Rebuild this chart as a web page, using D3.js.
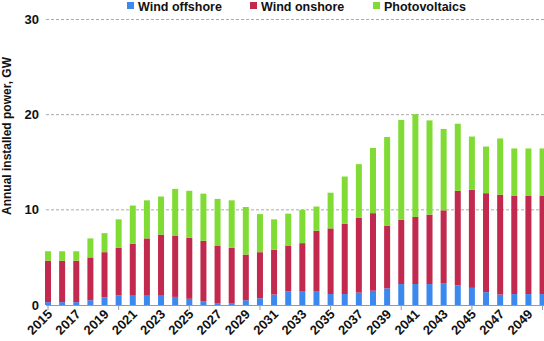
<!DOCTYPE html>
<html><head><meta charset="utf-8">
<script src="https://cdn.jsdelivr.net/npm/d3@7/dist/d3.min.js"></script>
<style>body{margin:0;background:#fff;}svg{display:block;}</style>
</head><body>
<script>
const years = d3.range(2015, 2051).map(String);
const windOffshore = [0.3,0.3,0.3,0.5,0.8,1.0,1.05,1.05,1.05,0.85,0.65,0.4,0.2,0.2,0.5,0.7,1.1,1.45,1.4,1.4,1.15,1.15,1.3,1.5,1.75,2.2,2.2,2.2,2.25,2.05,1.8,1.35,1.1,1.15,1.15,1.15];
const windOnshore = [4.35,4.35,4.35,4.5,4.75,5.0,5.4,5.95,6.35,6.4,6.4,6.35,6.0,5.8,4.8,4.85,4.7,4.8,5.1,6.4,6.9,7.4,7.85,8.15,6.6,6.75,7.05,7.3,7.7,9.95,10.3,10.4,10.5,10.35,10.35,10.35];
const photovoltaics = [1.0,1.0,1.0,2.0,2.0,3.0,4.0,4.0,4.0,4.95,4.95,4.95,4.95,5.0,5.0,4.0,3.2,3.35,3.5,2.55,3.75,4.95,5.65,6.85,9.3,10.5,10.8,9.9,8.55,7.05,5.6,4.9,5.9,4.95,4.95,4.95];
const seriesNames = ["Wind offshore","Wind onshore","Photovoltaics"];
const yTicks = [0,10,20,30];
const colors = ["#3b89ef","#c1294f","#80dc35"];

const W = 544, H = 341;
const svg = d3.select("body").append("svg").attr("width", W).attr("height", H)
  .style("font-family","'Liberation Sans', Arial, sans-serif");

const x = d3.scalePoint().domain(years).range([48, 48 + 35*14.13]);
const y = d3.scaleLinear().domain([0,30]).range([305, 19.5]);

// grid
svg.append("g").selectAll("line").data(yTicks.filter(d=>d>0)).join("line")
  .attr("x1", 46).attr("x2", W).attr("y1", d=>y(d)).attr("y2", d=>y(d))
  .attr("stroke","#aaa").attr("stroke-dasharray","3,2").attr("stroke-width",1);

// y tick labels
svg.append("g").selectAll("text").data(yTicks).join("text")
  .attr("x", 39).attr("y", d=>y(d)+4.5).attr("text-anchor","end")
  .attr("font-size",13).attr("font-weight","bold").attr("fill","#111").text(d=>d);

// y label
svg.append("text").attr("transform","translate(11,136) rotate(-90)")
  .attr("text-anchor","middle").attr("font-size",12).attr("font-weight","bold")
  .attr("fill","#111").text("Annual installed power, GW");

// stacked bars
const table = years.map((yr,i)=>({year:yr, "Wind offshore":windOffshore[i], "Wind onshore":windOnshore[i], "Photovoltaics":photovoltaics[i]}));
const stack = d3.stack().keys(seriesNames)(table);
const bw = 6;
svg.append("g").selectAll("g").data(stack).join("g").attr("fill",(d,i)=>colors[i])
  .selectAll("rect").data(d=>d).join("rect")
  .attr("x", d=>x(d.data.year)-bw/2).attr("width", bw)
  .attr("y", d=>y(d[1])).attr("height", d=>y(d[0])-y(d[1]));

// x axis line and ticks
svg.append("line").attr("x1",46).attr("x2",W).attr("y1",305.5).attr("y2",305.5)
  .attr("stroke","#999").attr("stroke-width",1);
svg.append("g").selectAll("line").data(years.filter((d,i)=>i%5===0)).join("line")
  .attr("x1",d=>x(d)).attr("x2",d=>x(d)).attr("y1",305.5).attr("y2",310)
  .attr("stroke","#999");

// x labels
svg.append("g").selectAll("text").data(years.filter((d,i)=>i%2===0)).join("text")
  .attr("transform", d=>`translate(${x(d)+5},315) rotate(-45)`)
  .attr("text-anchor","end").attr("font-size",13).attr("font-weight","bold")
  .attr("fill","#111").text(d=>d);

// legend
const legX = [127, 250, 373];
const leg = svg.append("g").selectAll("g").data(seriesNames).join("g")
  .attr("transform",(d,i)=>`translate(${legX[i]},0)`);
leg.append("rect").attr("x",0).attr("y",2).attr("width",7).attr("height",7).attr("fill",(d,i)=>colors[i]);
leg.append("text").attr("x",11).attr("y",10.5).attr("font-size",12.5).attr("font-weight","bold")
  .attr("fill","#111").text(d=>d);
</script>
</body></html>
